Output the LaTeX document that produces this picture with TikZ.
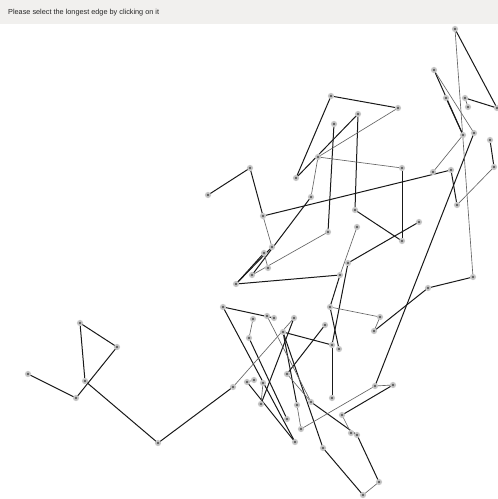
\documentclass[tikz,border=0pt]{standalone}
\usepackage{fontspec}
\setmainfont{Liberation Sans}
\definecolor{hdr}{HTML}{F1F0EE}
\begin{document}
\begin{tikzpicture}[x=1pt,y=-1pt,
  vtx/.style={circle,inner sep=0pt,minimum size=4.5pt,fill=black!60,draw=black!22,line width=1.6pt},
  edge/.style={draw=black!90,line width=1pt},
  edgel/.style={draw=black!60,line width=0.65pt}]
\useasboundingbox[fill=white] (0,0) rectangle (498,499);
\fill[hdr] (0,0) rectangle (498,24);
\node[anchor=west,inner sep=0pt,font=\fontsize{7.3}{9}\selectfont,text=black!85] (title) at (8,12.5) {Please select the longest edge by clicking on it};
% vertices
\foreach \n/\x/\y in {a1/28/374,a2/76/398,a3/80/323,a4/117/347,a5/85/381,a6/158/443,a7/233/387,
 b1/331/96,b2/358/114,b3/334/124,b4/318/157,b5/296/178,b6/250/168,b7/208/195,b8/311/197,b9/263/216,
 b10/328/232,b11/355/210,b12/357/227,b13/272/247,b14/264/253,b15/268/268,b16/252/275,b17/340/275,b18/348/263,b19/398/108,
 c1/455/29,c2/434/70,c3/446/98,c4/465/98,c5/468/107,c6/497/108,c7/474/133,c8/463/135,c9/490/140,c10/494/167,
 c11/402/168,c12/451/170,c13/433/172,c14/457/205,c15/419/222,c16/402/241,c17/473/277,c18/428/288,
 d1/236/284,d2/223/307,d3/267/316,d4/274/318,d5/253/319,d6/294/318,d7/330/307,d8/380/317,d9/374/331,
 d10/249/338,d11/283/332,d12/325/325,d13/332/345,d14/339/349,d15/287/374,d16/254/380,d17/247/382,d18/263/383,
 d19/261/404,d20/297/405,d21/311/402,d22/332/398,d23/393/385,d24/375/386,d25/342/415,d26/287/419,d27/301/429,
 d28/351/433,d29/357/435,d30/295/442,d31/323/448,d32/379/482,d33/363/495}
 {\coordinate (\n) at (\x,\y);}
% edges
\foreach \u/\v in {a1/a2,a3/a4,a3/a5,a4/a2,a5/a6,a6/a7,
 b1/b19,b1/b5,b2/b5,b3/b10,b2/b11,b11/c16,c15/b18,b7/b6,b6/b9,b8/b16,b9/c12,d1/b17,d1/b13,d1/b14,b18/d13,
 c1/c6,c2/c8,c3/c8,c4/c6,c7/d24,c9/c10,c12/c14,c11/c16,c17/c18,c18/d9,
 d2/d4,d2/d30,d6/d19,d11/d13,d11/d20,d12/d15,d7/d14,d13/d22,d17/d30,d23/d25,d29/d32,d31/d33,d31/d11,b17/d7,d10/d26,d21/d29}
 {\path[edge] (\u) -- (\v);}
\foreach \u/\v in {b19/b4,b4/c11,b12/b17,b9/b13,b10/b16,b15/b14,b4/b8,
 c1/c17,c2/c7,c4/c5,c8/c13,c10/c14,
 d5/d10,d6/a7,d7/d8,d8/d9,d3/d21,d16/d17,d15/d21,d20/d27,d27/d24,d24/d23,d25/d28,d32/d33,d19/d18}
 {\path[edgel] (\u) -- (\v);}
\foreach \n in {a1,a2,a3,a4,a5,a6,a7,b1,b2,b3,b4,b5,b6,b7,b8,b9,b10,b11,b12,b13,b14,b15,b16,b17,b18,b19,
 c1,c2,c3,c4,c5,c6,c7,c8,c9,c10,c11,c12,c13,c14,c15,c16,c17,c18,
 d1,d2,d3,d4,d5,d6,d7,d8,d9,d10,d11,d12,d13,d14,d15,d16,d17,d18,d19,d20,d21,d22,d23,d24,d25,d26,d27,d28,d29,d30,d31,d32,d33}
 {\node[vtx] (v\n) at (\n) {};}
\end{tikzpicture}
\end{document}
